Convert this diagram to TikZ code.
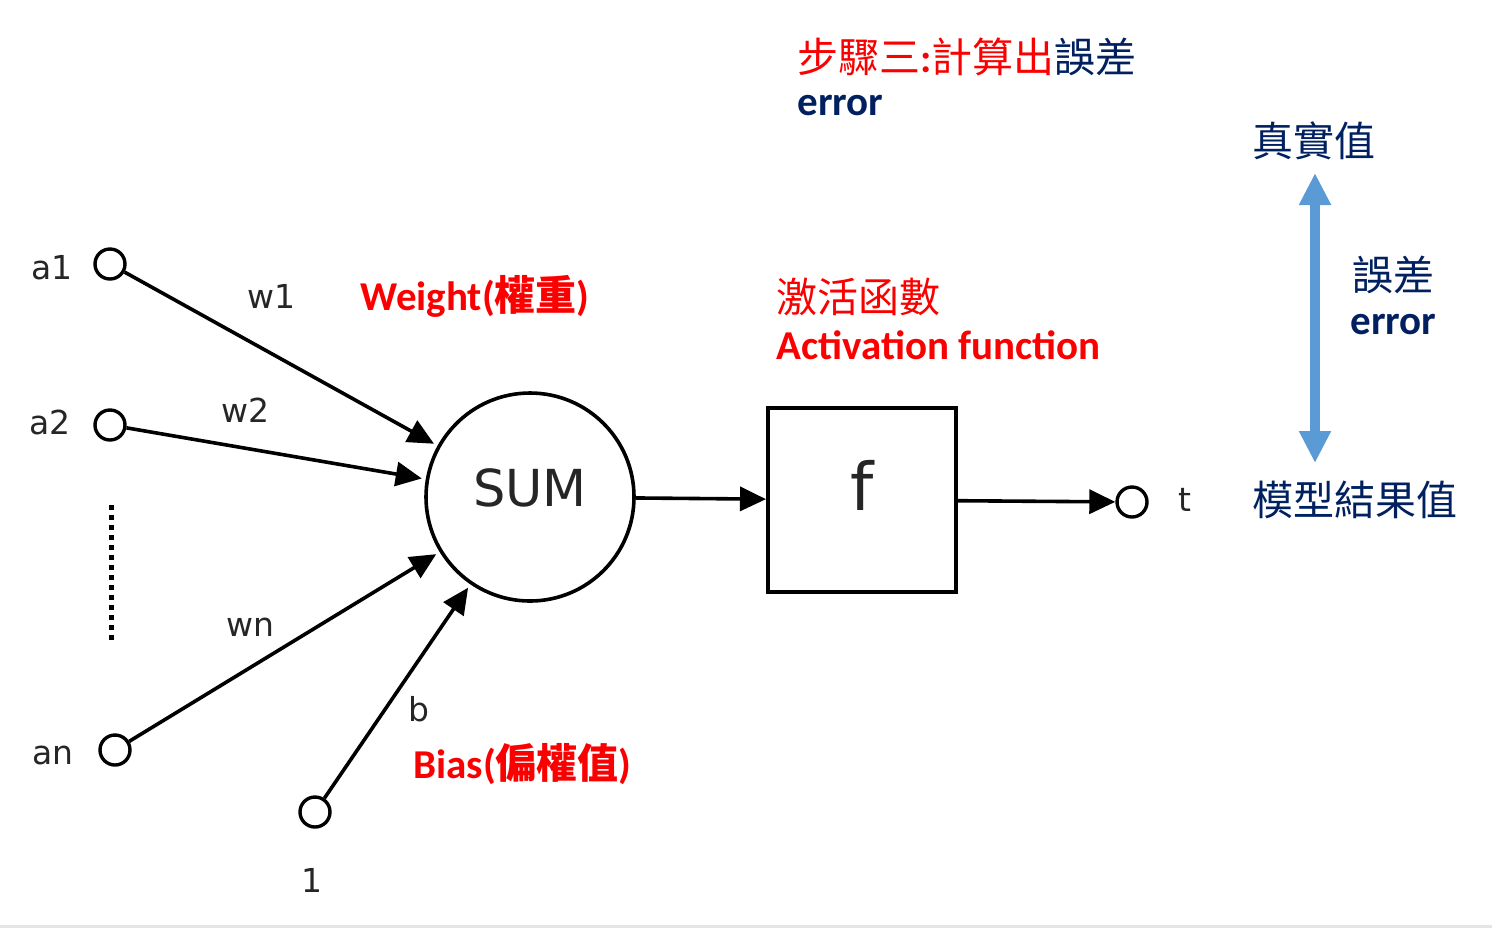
\documentclass[tikz,border=0pt]{standalone}
\usepackage{fontspec}
\setmainfont{DejaVu Sans}
\newfontfamily\slidefont{Carlito Bold}
\newfontfamily\cjk{Noto Sans CJK TC}
\usetikzlibrary{arrows.meta}

\definecolor{slidered}{RGB}{250,0,0}
\definecolor{navy}{RGB}{0,32,96}
\definecolor{errblue}{RGB}{91,155,213}

\tikzset{
  port/.style={circle, draw, line width=1.7pt, minimum size=15pt, inner sep=0pt},
  lbl/.style={font=\fontsize{16.5}{18}\selectfont, text=black!85, inner sep=0pt},
  wire/.style={line width=1.8pt, -{Triangle[length=13pt,width=12pt]}},
  slide/.style={font=\fontsize{20.5}{24}\selectfont\slidefont, anchor=west, inner sep=0pt},
  errarrow/.style={draw=errblue, line width=5pt,
    {Triangle[length=16pt,width=15pt]}-{Triangle[length=16pt,width=15pt]}}
}

\begin{document}
\begin{tikzpicture}[x=0.5pt,y=-0.5pt]
    \useasboundingbox (0,0) rectangle (1492,928);
    \fill[black!10] (0,925) rectangle (1492,928);

    % Inputs
    \node[port] (a1) at (110,264) {};
    \node[port] (a2) at (110,425) {};
    \node[port] (an) at (115,750) {};
    \node[port] (one) at (315,812) {};
    \node[lbl] (a1lbl) at (52,268) {a1};
    \node[lbl] (a2lbl) at (50,422) {a2};
    \node[lbl] (anlbl) at (53,755) {an};
    \node[lbl] (onelbl) at (312,880) {1};
    \draw[line width=2.5pt, dash pattern=on 2.5pt off 2.5pt] (111,505) -- (111,640);

    % Neuron
    \node[circle, draw, line width=1.8pt, minimum size=104pt, inner sep=0pt,
          font=\fontsize{25.5}{30}\selectfont, text=black!85,
          text height=19pt, text depth=10pt] (sum) at (530,497) {SUM};
    \node[draw, line width=2pt, minimum width=94pt, minimum height=92pt,
          inner sep=0pt, font=\fontsize{33}{36}\selectfont, text=black!85,
          text height=25pt, text depth=15pt] (f) at (862,500) {f};
    \node[port] (t) at (1132,502) {};
    \node[lbl] (tlbl) at (1185,500) {t};

    % Weights
    \draw[wire, shorten >=2pt] (a1) -- (sum);
    \draw[wire, shorten >=2pt] (a2) -- (sum);
    \draw[wire, shorten >=2pt] (an) -- (sum);
    \draw[wire, shorten >=2pt] (one) -- (sum);
    \draw[wire] (sum) -- (f);
    \draw[wire] (f) -- (t);
    \node[lbl] (w1) at (271,296) {w1};
    \node[lbl] (w2) at (245,410) {w2};
    \node[lbl] (wn) at (250,627) {wn};
    \node[lbl] (b) at (419,709) {b};

    % Notes
    \node[slide, text=slidered] (step) at (797,57)
      {{\cjk 步驟三}:{\cjk 計算出}\textcolor{navy}{\cjk 誤差}};
    \node[slide, text=navy] (steperr) at (797,106) {error};
    \node[slide, text=slidered] (weight) at (360,296) {Weight({\cjk\bfseries 權重})};
    \node[slide, text=slidered] (bias) at (413,764) {Bias({\cjk\bfseries 偏權值})};
    \node[slide, text=slidered] (act) at (776,297) {\cjk 激活函數};
    \node[slide, text=slidered] (actname) at (776,345) {Activation function};

    % Error
    \node[slide, text=navy, anchor=center] (real) at (1314,141) {\cjk 真實值};
    \node[slide, text=navy] (model) at (1252,500) {\cjk 模型結果值};
    \node[slide, text=navy] (errcjk) at (1352,275) {\cjk 誤差};
    \node[slide, text=navy] (errname) at (1350,325) {error};
    \coordinate (errtop) at (1315,173);
    \coordinate (errbot) at (1315,463);
    \draw[errarrow] (errtop) -- (errbot);
\end{tikzpicture}
\end{document}
